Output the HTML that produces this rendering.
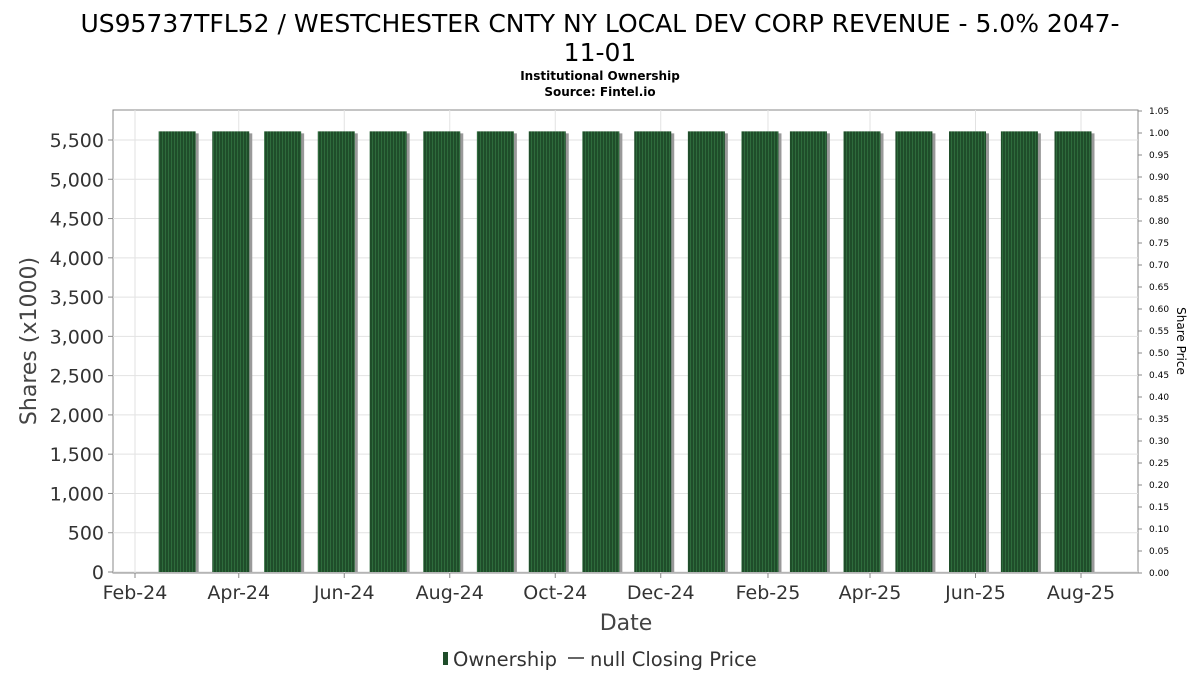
<!DOCTYPE html>
<html><head><meta charset="utf-8"><style>
body{margin:0;background:#fff;font-family:"DejaVu Sans","Liberation Sans",sans-serif;}
</style></head><body>
<svg width="1200" height="675" xmlns="http://www.w3.org/2000/svg" font-family="DejaVu Sans, Liberation Sans, sans-serif">
<defs>
<pattern id="stripes" width="3" height="10" patternUnits="userSpaceOnUse">
<rect width="3" height="10" fill="#1f4d2a"/><rect width="1" height="10" fill="#2e6b3c"/>
</pattern>
</defs>
<text x="600" y="32" text-anchor="middle" font-size="25" fill="#000">US95737TFL52 / WESTCHESTER CNTY NY LOCAL DEV CORP REVENUE - 5.0% 2047-</text>
<text x="600" y="61" text-anchor="middle" font-size="25" fill="#000">11-01</text>
<text x="600" y="80" text-anchor="middle" font-size="12" font-weight="bold">Institutional Ownership</text>
<text x="600" y="96" text-anchor="middle" font-size="12" font-weight="bold">Source: Fintel.io</text>
<rect x="113" y="110" width="1025" height="463" fill="#fff" stroke="#888"/>
<g id="grid"></g><g id="bars"></g><g id="axes"></g>
<text transform="translate(36,341) rotate(-90)" text-anchor="middle" font-size="22" fill="#444">Shares (x1000)</text>
<text transform="translate(1177,341) rotate(90)" text-anchor="middle" font-size="12" fill="#000">Share Price</text>
<text x="626" y="630" text-anchor="middle" font-size="22" fill="#444">Date</text>
<g>
<rect x="443" y="652" width="5" height="13" fill="#1f4d2a"/>
<text x="453" y="666" font-size="19.5" fill="#333">Ownership</text>
<line x1="568" y1="658" x2="584" y2="658" stroke="#333" stroke-width="1.5"/>
<text x="590" y="666" font-size="19.5" fill="#333">null Closing Price</text>
</g>
</svg>
<script>
const months=["2024-03","2024-04","2024-05","2024-06","2024-07","2024-08","2024-09","2024-10","2024-11","2024-12","2025-01","2025-02","2025-03","2025-04","2025-05","2025-06","2025-07","2025-08"];
const shares=[5610,5610,5610,5610,5610,5610,5610,5610,5610,5610,5610,5610,5610,5610,5610,5610,5610,5610];
const yTicks=[0,500,1000,1500,2000,2500,3000,3500,4000,4500,5000,5500];
const y2Ticks=[0,0.05,0.1,0.15,0.2,0.25,0.3,0.35,0.4,0.45,0.5,0.55,0.6,0.65,0.7,0.75,0.8,0.85,0.9,0.95,1.0,1.05];
const xTicks=["2024-02","2024-04","2024-06","2024-08","2024-10","2024-12","2025-02","2025-04","2025-06","2025-08"];
const mn=["Jan","Feb","Mar","Apr","May","Jun","Jul","Aug","Sep","Oct","Nov","Dec"];
const NS="http://www.w3.org/2000/svg";
const t0=Date.UTC(2024,1,1),t1=Date.UTC(2025,7,1);
function d(s){const p=s.split("-");return Date.UTC(+p[0],+p[1]-1,1);}
function x(s){return 135+(d(s)-t0)/(t1-t0)*946;}
function y(v){return 572-v*(432/5500);}
function y2(v){return 573-v*(462/1.05);}
function mk(tag,at,parent){const e=document.createElementNS(NS,tag);for(const k in at)e.setAttribute(k,at[k]);document.getElementById(parent).appendChild(e);return e;}
yTicks.forEach(v=>{
 const g=mk("line",{x1:113,x2:1138,y1:y(v),y2:y(v),stroke:"#e2e2e2"},"grid");
 
 
 const tk=mk("line",{x1:108,x2:113,y1:y(v),y2:y(v),stroke:"#888"},"axes");
 
 
 const t=mk("text",{x:104,y:y(v)+7,"text-anchor":"end","font-size":19,fill:"#333"},"axes");
 t.textContent=v.toLocaleString("en-US");
 
 
});
y2Ticks.forEach(v=>{
 const tk=mk("line",{x1:1138,x2:1142,y1:y2(v),y2:y2(v),stroke:"#888"},"axes");
 
 
 const t=mk("text",{x:1149,y:y2(v)+3,"font-size":9,fill:"#000"},"axes");
 t.textContent=v.toFixed(2);
 
 
});
xTicks.forEach(s=>{
 const g=mk("line",{x1:x(s),x2:x(s),y1:110,y2:573,stroke:"#e2e2e2"},"grid");
 
 
 const tk=mk("line",{x1:x(s),x2:x(s),y1:573,y2:578,stroke:"#888"},"axes");
 
 
 const p=s.split("-");
 const t=mk("text",{x:x(s),y:599,"text-anchor":"middle","font-size":19,fill:"#333"},"axes");
 t.textContent=mn[+p[1]-1]+"-"+p[0].slice(2);
 
 
});
months.forEach((m,i)=>{
 const cx=x(m)-8,w=37,top=y(shares[i]);
 const sh=mk("rect",{x:cx-w/2+3,y:top+2,width:w,height:572-top-2,fill:"#999"},"bars");
 
 
 const b=mk("rect",{x:cx-w/2,y:top,width:w,height:572-top,fill:"url(#stripes)"},"bars");
 
 
});
</script>
</body></html>
